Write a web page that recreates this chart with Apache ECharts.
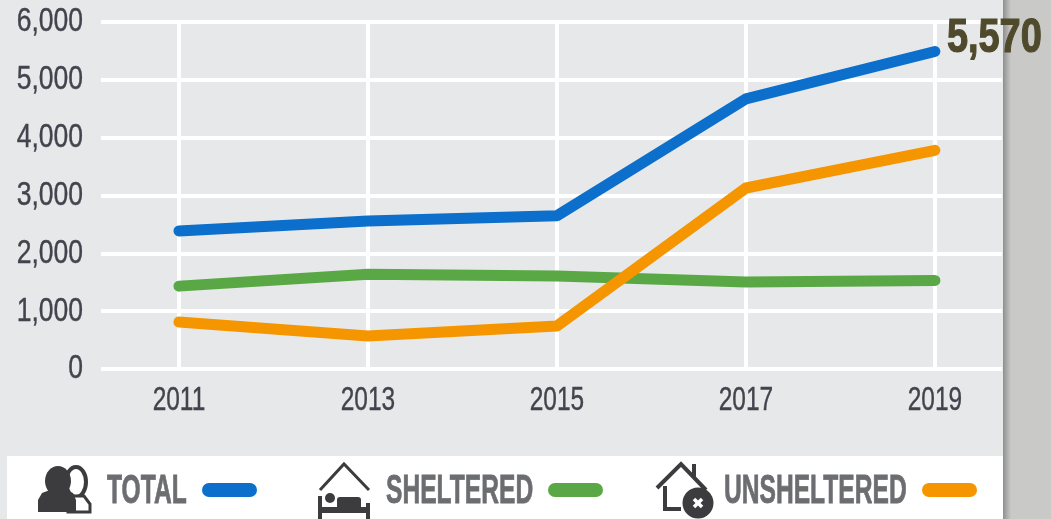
<!DOCTYPE html>
<html>
<head>
<meta charset="utf-8">
<style>
  html, body { margin: 0; padding: 0; background: #e7e8ea; }
  #chart { width: 1051px; height: 519px; }
</style>
</head>
<body>
<div id="chart"></div>
<script src="https://cdn.jsdelivr.net/npm/echarts@6/dist/echarts.min.js"></script>
<script>
const years = [2011, 2013, 2015, 2017, 2019];
const total = [2386, 2560, 2650, 4670, 5490];
const sheltered = [1433, 1640, 1606, 1503, 1530];
const unsheltered = [812, 570, 743, 3130, 3782];
const yTicks = [0, 1000, 2000, 3000, 4000, 5000, 6000];
const endValueLabel = '5,570';

const BLUE = '#0b6fcb';
const GREEN = '#5aa845';
const ORANGE = '#f59600';
const DARK = '#3c3c3e';
const TICK = '#41444c';
const sans = '"Liberation Sans", sans-serif';

function makeLine(name, values, color) {
  return {
    name: name,
    type: 'line',
    data: years.map((y, i) => [y, values[i]]),
    symbol: 'none',
    silent: true,
    lineStyle: { color: color, width: 11, cap: 'round', join: 'round' },
    z: 5
  };
}

// no condensed font is installed, so labels are squeezed with scaleX
function squeezed(text, x, y, scaleX, font, fill, align, z, thicken) {
  return {
    type: 'text', x: x, y: y, scaleX: scaleX, z: z,
    style: { text: text, fill: fill, font: font, align: align, verticalAlign: 'middle', stroke: fill, lineWidth: thicken }
  };
}
function legendText(text, x) {
  return squeezed(text, x, 492, 0.6, 'bold 41px ' + sans, '#6b6d70', 'left', 3, 0.8);
}
function legendKey(x, w, color) {
  return { type: 'rect', shape: { x: x, y: 483, width: w, height: 14, r: 7 }, style: { fill: color }, z: 3 };
}

const chart = echarts.init(document.getElementById('chart'), null, { renderer: 'canvas' });
chart.setOption({
  animation: false,
  backgroundColor: '#e7e8ea',
  grid: { left: 101, right: 49, top: 22, height: 347 },
  xAxis: {
    type: 'value',
    min: 2010.175,
    max: 2019.71,
    axisLine: { show: false },
    axisTick: { show: false, customValues: years },
    splitLine: { show: true, lineStyle: { color: '#ffffff', width: 4 } },
    axisLabel: { show: false, customValues: years }
  },
  yAxis: {
    type: 'value',
    min: yTicks[0],
    max: yTicks[yTicks.length - 1],
    interval: 1000,
    axisLine: { show: false },
    axisTick: { show: false },
    splitLine: { show: true, lineStyle: { color: '#ffffff', width: 4 } },
    axisLabel: { show: false }
  },
  series: [makeLine('TOTAL', total, BLUE), makeLine('SHELTERED', sheltered, GREEN), makeLine('UNSHELTERED', unsheltered, ORANGE)]
});

// tick labels sit where the axes put their ticks
const xLabels = years.map(y => squeezed(String(y), chart.convertToPixel({ xAxisIndex: 0 }, y), 401, 0.72, '34px ' + sans, TICK, 'center', 6, 0.4));
const yLabels = yTicks.map(v => squeezed(v.toLocaleString('en-US'), 83, chart.convertToPixel({ yAxisIndex: 0 }, v), 0.78, '34px ' + sans, TICK, 'right', 6, 0.4));
const endPoint = chart.convertToPixel({ gridIndex: 0 }, [years[4], total[4]]);

chart.setOption({
  graphic: [
    // right side panel and white legend strip
    { type: 'rect', shape: { x: 1003, y: 0, width: 48, height: 519 }, style: { fill: '#c9cac8' }, z: -1 },
    { type: 'rect', shape: { x: 1003, y: 0, width: 8, height: 519 },
      style: { fill: new echarts.graphic.LinearGradient(0, 0, 1, 0, [{ offset: 0, color: '#8e8f8e' }, { offset: 1, color: '#c9cac8' }]) }, z: -1 },
    { type: 'rect', shape: { x: 7, y: 456, width: 996, height: 63 }, style: { fill: '#ffffff' }, z: 1 },

    ...xLabels,
    ...yLabels,
    squeezed(endValueLabel, endPoint[0] + 12, endPoint[1] - 13, 0.79, 'bold 48px ' + sans, '#4f4a2c', 'left', 7, 1.2),

    legendText('TOTAL', 107),
    legendKey(202, 55, BLUE),
    legendText('SHELTERED', 386),
    legendKey(548, 55, GREEN),
    legendText('UNSHELTERED', 724),
    legendKey(922, 55, ORANGE),

    // people icon
    { type: 'ellipse', shape: { cx: 76, cy: 482, rx: 10, ry: 15 }, style: { fill: '#fff', stroke: DARK, lineWidth: 4 }, z: 3 },
    { type: 'polygon', shape: { points: [[68, 496], [84, 496], [90, 504], [90, 512], [68, 512]] }, style: { fill: '#fff', stroke: DARK, lineWidth: 3 }, z: 3 },
    { type: 'ellipse', shape: { cx: 58, cy: 481, rx: 13, ry: 15 }, style: { fill: DARK }, z: 4 },
    { type: 'polygon', shape: { points: [[38, 512], [38, 500], [42, 493], [50, 490], [66, 490], [73, 493], [76, 500], [76, 512]] }, style: { fill: DARK }, z: 4 },

    // house with bed icon
    { type: 'polyline', shape: { points: [[320, 490], [344, 464], [369, 490]] }, style: { stroke: DARK, lineWidth: 3, fill: null }, z: 3 },
    { type: 'line', shape: { x1: 320, y1: 496, x2: 320, y2: 519 }, style: { stroke: DARK, lineWidth: 4 }, z: 3 },
    { type: 'line', shape: { x1: 368, y1: 503, x2: 368, y2: 519 }, style: { stroke: DARK, lineWidth: 4 }, z: 3 },
    { type: 'circle', shape: { cx: 330, cy: 498, r: 5 }, style: { fill: DARK }, z: 3 },
    { type: 'rect', shape: { x: 337, y: 497, width: 24, height: 16, r: 3 }, style: { fill: DARK }, z: 3 },
    { type: 'rect', shape: { x: 320, y: 507, width: 48, height: 6 }, style: { fill: DARK }, z: 3 },

    // house with cross icon
    { type: 'polyline', shape: { points: [[657, 488], [681, 464], [706, 490]] }, style: { stroke: DARK, lineWidth: 4, fill: null }, z: 3 },
    { type: 'line', shape: { x1: 694, y1: 464, x2: 694, y2: 478 }, style: { stroke: DARK, lineWidth: 4 }, z: 3 },
    { type: 'polyline', shape: { points: [[665, 486], [665, 509], [681, 509]] }, style: { stroke: DARK, lineWidth: 4, fill: null }, z: 3 },
    { type: 'circle', shape: { cx: 698, cy: 503, r: 15.5 }, style: { fill: DARK }, z: 3 },
    { type: 'line', shape: { x1: 694, y1: 499, x2: 702, y2: 507 }, style: { stroke: '#fff', lineWidth: 3.5 }, z: 4 },
    { type: 'line', shape: { x1: 702, y1: 499, x2: 694, y2: 507 }, style: { stroke: '#fff', lineWidth: 3.5 }, z: 4 }
  ]
});
</script>
</body>
</html>
